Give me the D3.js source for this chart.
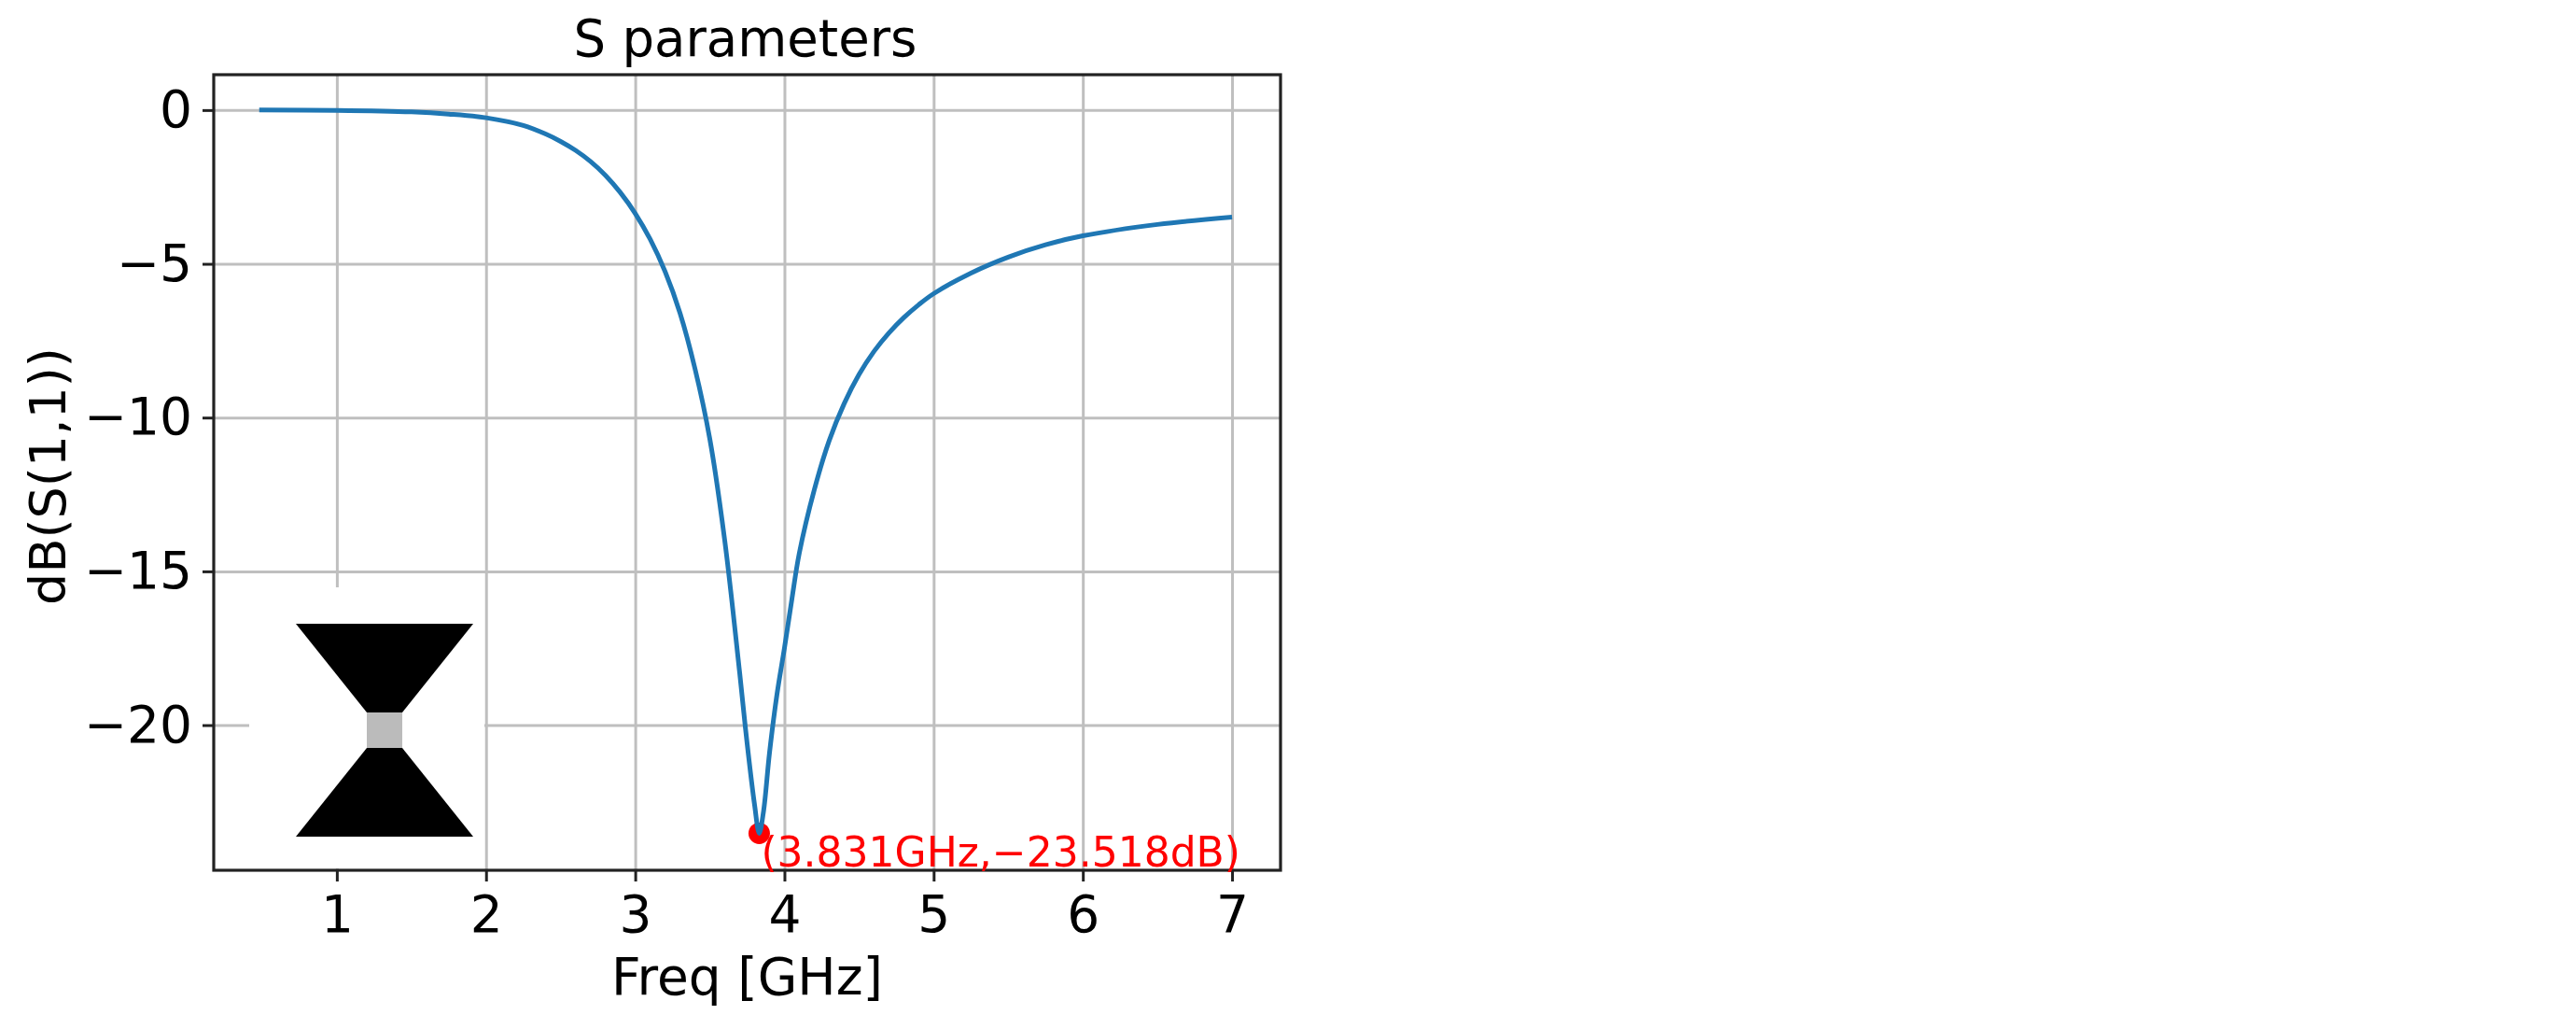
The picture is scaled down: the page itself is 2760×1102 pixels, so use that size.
<!DOCTYPE html>
<html>
<head>
<meta charset="utf-8">
<script src="https://cdn.jsdelivr.net/npm/d3@7"></script>
<style>
  html, body { margin: 0; background: #fff; }
  text { font-family: "DejaVu Sans", sans-serif; fill: #000; }
  svg { display: block; filter: blur(0.6px); }
</style>
</head>
<body>
<div id="chart"></div>
<script>
(function() {
  // values
  var freqGHz = [0.48, 1, 1.5, 1.75, 2, 2.25, 2.4, 2.5, 2.6, 2.7, 2.8, 2.9, 3, 3.1, 3.2, 3.3, 3.4, 3.5, 3.6, 3.7, 3.75, 3.8, 3.831, 3.86, 3.9, 3.95, 4, 4.05, 4.1, 4.2, 4.3, 4.4, 4.5, 4.6, 4.7, 4.8, 4.9, 5, 5.25, 5.5, 5.75, 6, 6.5, 7];
  var s11dB = [0, -0.01, -0.06, -0.13, -0.25, -0.5, -0.78, -1.02, -1.31, -1.67, -2.12, -2.68, -3.36, -4.2, -5.25, -6.6, -8.4, -10.7, -14, -18.3, -20.6, -22.6, -23.518, -22.8, -20.9, -19, -17.5, -15.9, -14.4, -12.35, -10.75, -9.55, -8.6, -7.85, -7.25, -6.75, -6.33, -5.97, -5.3, -4.78, -4.38, -4.09, -3.72, -3.48];
  var xTicks = [1, 2, 3, 4, 5, 6, 7];
  var yTicks = [0, -5, -10, -15, -20];
  var peakFreq = 3.831;
  var peakDb = -23.518;
  var peakLabel = "(3.831GHz,\u221223.518dB)";

  // the bowtie antenna sketch, in its own units
  var bowUpper = [[-5, 6], [5, 6], [1, 1], [-1, 1]];
  var bowLower = [[-5, -6], [5, -6], [1, -1], [-1, -1]];
  var bowFeed = [[-1, 1], [1, 1], [1, -1], [-1, -1]];

  var margin = { top: 80, left: 229, right: 1388, bottom: 170 },
  height = 1102 - margin.top - margin.bottom,
  width = 2760 - margin.left - margin.right;

  var svg = d3.select("#chart")
        .append("svg")
        .attr("height", height + margin.top + margin.bottom)
        .attr("width", width + margin.left + margin.right)
        .append("g")
        .attr("transform", "translate(" + margin.left + "," + margin.top + ")");

  var xPositionScale = d3.scaleLinear()
    .domain([0.175, 7.325])
    .range([0, width])

  var yPositionScale = d3.scaleLinear()
    .domain([1.15, -24.72])
    .range([0, height])

  // Grid first so everything else sits on top
  var xGrid = d3.axisBottom(xPositionScale).tickValues(xTicks).tickSize(-height).tickFormat("")
  svg.append("g")
    .attr("class", "grid")
    .attr("transform", "translate(0," + height + ")")
    .call(xGrid);

  var yGrid = d3.axisLeft(yPositionScale).tickValues(yTicks).tickSize(-width).tickFormat("")
  svg.append("g")
    .attr("class", "grid")
    .call(yGrid);

  svg.selectAll(".grid .domain").remove()
  svg.selectAll(".grid line")
    .attr("stroke", "#bfbfbf")
    .attr("stroke-width", 3)

  // The curve
  var line = d3.line()
    .x(function(d, i){
      return xPositionScale(freqGHz[i])
    })
    .y(function(d){
      return yPositionScale(d)
    })
    .curve(d3.curveCatmullRom.alpha(0.5))

  // Marker goes under the line, the blue tip shows on the red dot
  svg.append("circle")
    .attr("cx", xPositionScale(peakFreq))
    .attr("cy", yPositionScale(peakDb))
    .attr("r", 11.5)
    .attr("fill", "#ff0000")

  svg.append("path")
    .datum(s11dB)
    .attr("d", line)
    .attr("stroke", "#1f77b4")
    .attr("stroke-width", 5)
    .attr("fill", "none")

  // Frame
  svg.append("rect")
    .attr("width", width)
    .attr("height", height)
    .attr("fill", "none")
    .attr("stroke", "#222")
    .attr("stroke-width", 3.2)

  // White box of the pasted inset hides part of the grid
  var inset = svg.append("g")

  inset.append("rect")
    .attr("x", 38)
    .attr("y", 549)
    .attr("width", 252)
    .attr("height", 301)
    .attr("fill", "#fff")

  var bowX = d3.scaleLinear().domain([-5, 5]).range([88, 278])
  var bowY = d3.scaleLinear().domain([6, -6]).range([588, 816])

  var polygon = d3.line()
    .x(function(d){ return bowX(d[0]) })
    .y(function(d){ return bowY(d[1]) })
    .curve(d3.curveLinearClosed)

  inset.append("path").attr("d", polygon(bowUpper)).attr("fill", "#000")
  inset.append("path").attr("d", polygon(bowLower)).attr("fill", "#000")
  inset.append("path").attr("d", polygon(bowFeed)).attr("fill", "#bbbbbb")

  // Add your axes
  var xAxis = d3.axisBottom(xPositionScale).tickValues(xTicks).tickSize(12).tickPadding(15).tickFormat(d3.format("d"))
  svg.append("g")
    .attr("class", "axis x-axis")
    .attr("transform", "translate(0," + height + ")")
    .call(xAxis);

  var yAxis = d3.axisLeft(yPositionScale).tickValues(yTicks).tickSize(12).tickPadding(11).tickFormat(d3.format("d"))
  svg.append("g")
    .attr("class", "axis y-axis")
    .call(yAxis);

  svg.selectAll(".axis .domain").remove()
  svg.selectAll(".axis line").attr("stroke", "#222").attr("stroke-width", 3)
  svg.selectAll(".axis text").attr("fill", "#000").style("font-size", "55px")

  // Labels
  svg.append("text")
    .attr("x", width / 2 - 2)
    .attr("y", -20)
    .attr("text-anchor", "middle")
    .style("font-size", "54.5px")
    .text("S parameters")

  svg.append("text")
    .attr("x", width / 2)
    .attr("y", 985)
    .attr("text-anchor", "middle")
    .style("font-size", "55px")
    .text("Freq [GHz]")

  svg.append("text")
    .attr("transform", "translate(-159," + (height / 2 + 4) + ") rotate(-90)")
    .attr("text-anchor", "middle")
    .style("font-size", "54px")
    .text("dB(S(1,1))")

  svg.append("text")
    .attr("x", xPositionScale(peakFreq) + 2)
    .attr("y", height - 4)
    .style("font-size", "44px")
    .style("fill", "#ff0000")
    .text(peakLabel)
})();
</script>
</body>
</html>
